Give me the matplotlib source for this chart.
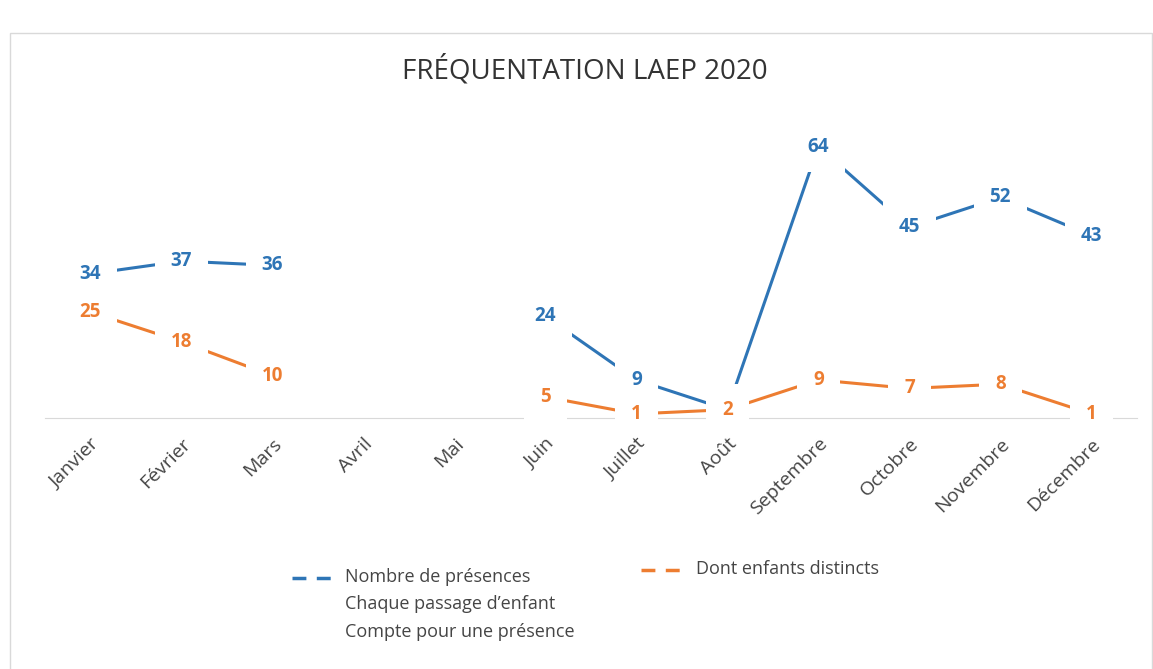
import numpy as np
import matplotlib
matplotlib.use("Agg")
import matplotlib.pyplot as plt
from matplotlib.lines import Line2D
from matplotlib.patches import Rectangle

months = ["Janvier", "Février", "Mars", "Avril", "Mai", "Juin", "Juillet",
          "Août", "Septembre", "Octobre", "Novembre", "Décembre"]
presences = [34, 37, 36, None, None, 24, 9, 2, 64, 45, 52, 43]
enfants = [25, 18, 10, None, None, 5, 1, 2, 9, 7, 8, 1]

BLUE = "#2E75B6"
ORANGE = "#ED7D31"
GREY = "#454545"

plt.rcParams['font.family'] = ['Open Sans', 'DejaVu Sans']


def to_arr(vals):
    return np.array([np.nan if v is None else v for v in vals], dtype=float)


fig = plt.figure(figsize=(11.53, 6.69), dpi=100)
ax = fig.add_axes([0.039, 0.375, 0.947, 0.444])

x = np.arange(len(months))
for vals, color in [(presences, BLUE), (enfants, ORANGE)]:
    y = to_arr(vals)
    ax.plot(x, y, color=color, lw=2.2, zorder=2)
    for xi, v in zip(x, vals):
        if v is None:
            continue
        ax.annotate(str(v), (xi, v), ha="center", va="center", fontsize=13.5,
                    fontweight="bold", color=color, zorder=3,
                    bbox=dict(boxstyle="square,pad=0.85", fc="white", ec="none"))

ax.set_xlim(-0.5, len(months) - 0.5)
ax.set_ylim(0, 70)
ax.set_xticks(x)
ax.set_xticklabels(months, rotation=45, ha="right", rotation_mode="anchor",
                   fontsize=14, color=GREY)
ax.tick_params(axis="x", length=0, pad=12)
ax.xaxis.set_zorder(5)
ax.set_yticks([])
for s in ["top", "right", "left"]:
    ax.spines[s].set_visible(False)
ax.spines["bottom"].set_color("#D9D9D9")

fig.text(0.507, 0.895, "FRÉQUENTATION LAEP 2020", ha="center", va="center",
         fontsize=20, color="#333333")

# legend
fig.add_artist(Line2D([0.253, 0.295], [0.136, 0.136], color=BLUE, lw=2.5,
                      dashes=(4, 3)))
fig.text(0.299, 0.138, "Nombre de présences", fontsize=13, color=GREY, va="center")
fig.text(0.299, 0.097, "Chaque passage d\u2019enfant", fontsize=13, color=GREY, va="center")
fig.text(0.299, 0.056, "Compte pour une présence", fontsize=13, color=GREY, va="center")
fig.add_artist(Line2D([0.556, 0.598], [0.148, 0.148], color=ORANGE, lw=2.5,
                      dashes=(4, 3)))
fig.text(0.604, 0.150, "Dont enfants distincts", fontsize=13, color=GREY, va="center")

# chart frame
fig.add_artist(Rectangle((0.009, -0.02), 0.99, 0.97, transform=fig.transFigure,
                         fill=False, ec="#D9D9D9", lw=1))

fig.savefig("out.png", dpi=100, facecolor="white")
